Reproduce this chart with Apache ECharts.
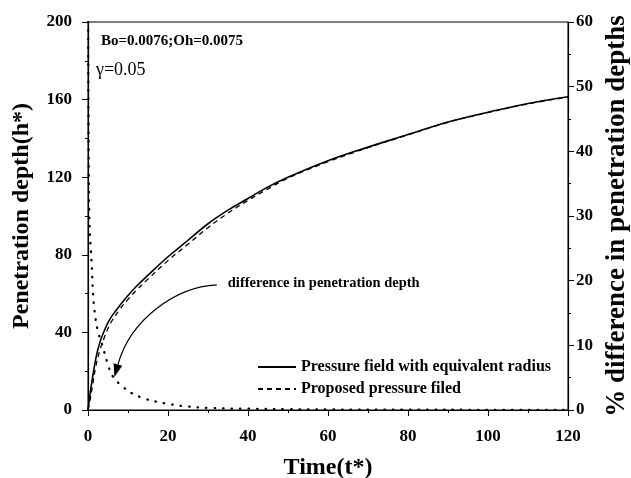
<!DOCTYPE html>
<html>
<head>
<meta charset="utf-8">
<script src="https://cdn.jsdelivr.net/npm/echarts@6/dist/echarts.min.js"></script>
<style>
html,body{margin:0;padding:0;background:#fff;}
#main{width:631px;height:478px;}
</style>
</head>
<body>
<div id="main"></div>
<script>
// time values and penetration depths
var tDepth = [0, 0.5, 1, 2, 3, 4, 5, 6, 8, 10, 12, 15, 20, 25, 30, 35, 40, 45, 50, 60, 70, 80, 90, 100, 110, 120];
var hEquivalent = [0, 8, 15, 27, 35, 40.5, 45, 48.5, 54, 59, 63.5, 69.5, 79, 87.5, 96, 103, 109, 115, 120, 128.5, 135.5, 142, 148.5, 153.5, 158, 161.5];
var hProposed = [0, 5, 11, 23, 31, 37, 42, 46, 52, 57, 61.5, 67.5, 77, 85.5, 94, 101.5, 108, 114, 119.5, 128, 135.2, 141.8, 148.3, 153.3, 157.8, 161.3];
// % difference (right axis)
var tDiff = [0.05, 0.1, 0.15, 0.2, 0.3, 0.5, 0.75, 1, 1.2, 1.6, 2.4, 3.7, 4.9, 6.2, 8.7, 11, 14, 17, 20, 24, 31, 40, 50, 60, 80, 100, 120];
var pctDiff = [60, 50, 43, 37, 31, 27, 24.5, 21.5, 18.6, 15.5, 12.4, 9.8, 7.2, 5.2, 3.6, 2.6, 1.8, 1.3, 0.95, 0.6, 0.3, 0.2, 0.12, 0.08, 0.05, 0.03, 0.02];

var serif = 'Liberation Serif';

function pairs(xs, ys)
{
	var out = [];
	for (var i = 0; i < xs.length; i++) out.push([xs[i], ys[i]]);
	return out;
}

var myChart = echarts.init(document.getElementById('main'));

var tickLabel = {color:'#000', fontFamily:serif, fontWeight:'bold', fontSize:17};
var axisName = {color:'#000', fontFamily:serif, fontWeight:'bold', fontSize:24};

myChart.setOption({
	animation:false,
	backgroundColor:'#fff',
	grid:{left:88, right:63, top:22, bottom:68, outerBoundsMode:'none', containLabel:false,
		show:true, borderColor:'#000', borderWidth:1},
	legend:{
		orient:'vertical', left:257, top:359, padding:0, itemWidth:38, itemHeight:14, itemGap:6,
		itemStyle:{opacity:0},
		textStyle:{color:'#000', fontFamily:serif, fontWeight:'bold', fontSize:16},
		data:['Pressure field with equivalent radius','Proposed pressure filed']
	},
	xAxis:{
		type:'value', min:0, max:120, interval:20,
		name:'Time(t*)', nameLocation:'middle', nameGap:46, nameTextStyle:axisName,
		axisLine:{lineStyle:{color:'#000', width:1.2}},
		axisTick:{length:6, lineStyle:{color:'#000'}},
		minorTick:{show:true, splitNumber:2, length:3, lineStyle:{color:'#000'}},
		axisLabel:Object.assign({margin:18}, tickLabel),
		splitLine:{show:false}
	},
	yAxis:[{
		type:'value', min:0, max:200, interval:40,
		name:'Penetration depth(h*)', nameLocation:'middle', nameGap:54, nameRotate:90, nameTextStyle:axisName,
		axisLine:{show:true, lineStyle:{color:'#000', width:1.2}},
		axisTick:{show:true, length:6, lineStyle:{color:'#000'}},
		minorTick:{show:true, splitNumber:2, length:3, lineStyle:{color:'#000'}},
		axisLabel:Object.assign({margin:16}, tickLabel),
		splitLine:{show:false}
	},{
		type:'value', min:0, max:60, interval:10, position:'right',
		name:'% difference in penetration depths', nameLocation:'middle', nameGap:27, nameRotate:90,
		nameTextStyle:{color:'#000', fontFamily:serif, fontWeight:'bold', fontSize:27},
		axisLine:{show:true, lineStyle:{color:'#000', width:1.2}},
		axisTick:{show:true, length:6, lineStyle:{color:'#000'}},
		minorTick:{show:true, splitNumber:2, length:3, lineStyle:{color:'#000'}},
		axisLabel:Object.assign({margin:8}, tickLabel),
		splitLine:{show:false}
	}],
	series:[{
		name:'Pressure field with equivalent radius', type:'line', smooth:0.4, symbol:'none',
		data:pairs(tDepth, hEquivalent),
		lineStyle:{color:'#000', width:1.6}, itemStyle:{color:'#000'}
	},{
		name:'Proposed pressure filed', type:'line', smooth:0.4, symbol:'none',
		data:pairs(tDepth, hProposed),
		lineStyle:{color:'#000', width:1.3, type:[5,4]}, itemStyle:{color:'#000'}
	},{
		name:'difference', type:'line', yAxisIndex:1, smooth:0.4, symbol:'none',
		data:pairs(tDiff, pctDiff),
		lineStyle:{color:'#000', width:2.3, type:[0.5,8], cap:'round'}
	}]
});

// arrow pointing at the dotted curve, anchored in data coordinates
var from = myChart.convertToPixel({xAxisIndex:0, yAxisIndex:0}, [32.2, 64.5]);
var to = myChart.convertToPixel({xAxisIndex:0, yAxisIndex:0}, [6.6, 17]);
var c1 = [from[0]-42, from[1]+2];
var c2 = [to[0]+16, to[1]-57];
var ang = Math.atan2(to[1]-c2[1], to[0]-c2[0]);
var hl = 13, hw = 4.5;
var bx = to[0]-hl*Math.cos(ang), by = to[1]-hl*Math.sin(ang);
var px = -Math.sin(ang)*hw, py = Math.cos(ang)*hw;

myChart.setOption({
	graphic:[{
		type:'bezierCurve',
		shape:{x1:from[0], y1:from[1], cpx1:c1[0], cpy1:c1[1], cpx2:c2[0], cpy2:c2[1], x2:bx, y2:by},
		style:{stroke:'#000', lineWidth:1.2, fill:null}
	},{
		type:'polygon',
		shape:{points:[[to[0],to[1]],[bx+px,by+py],[bx-px,by-py]]},
		style:{fill:'#000'}
	},{
		type:'text', left:from[0]+11, top:from[1]-9,
		style:{text:'difference in penetration depth', fill:'#000', font:'bold 14.5px "Liberation Serif"'}
	},{
		type:'text', left:101, top:34,
		style:{text:'Bo=0.0076;Oh=0.0075', fill:'#000', font:'bold 15px "Liberation Serif"'}
	},{
		type:'text', left:96, top:61,
		style:{text:'γ=0.05', fill:'#000', font:'18px "Liberation Serif"'}
	}]
});
</script>
</body>
</html>
